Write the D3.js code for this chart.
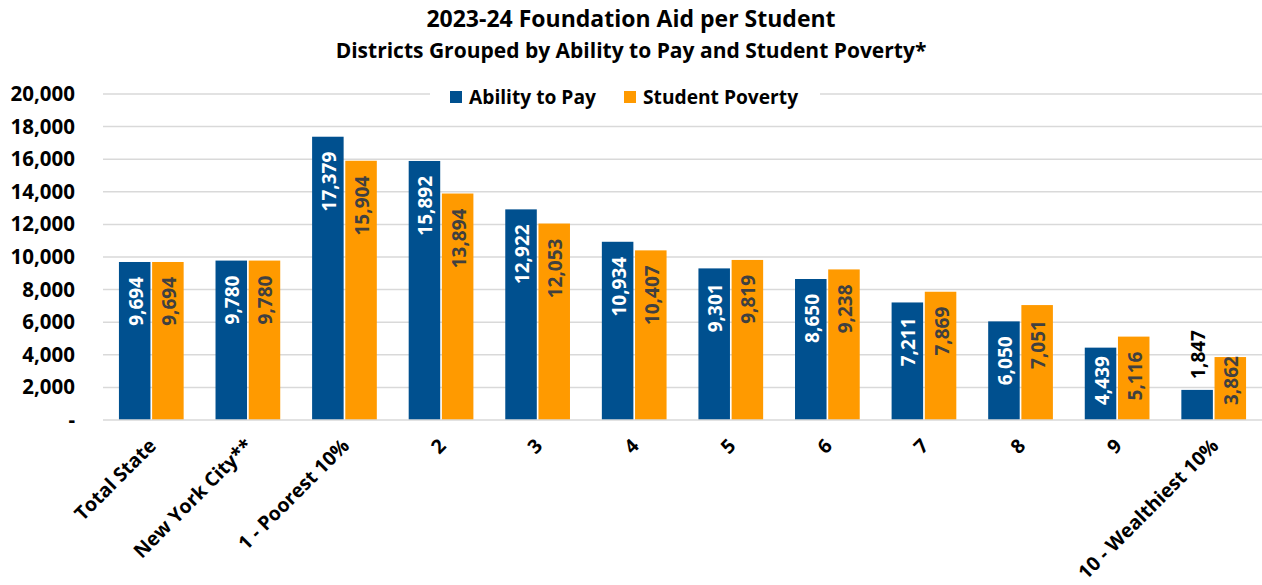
<!DOCTYPE html>
<html>
<head>
<meta charset="utf-8">
<script src="https://cdn.jsdelivr.net/npm/d3@7"></script>
<style>
  body { margin: 0; background: #fff; }
  svg text { font-family: "Open Sans", Lato, sans-serif; font-weight: bold; }
</style>
</head>
<body>
<div id="chart"></div>
<script>
// data
const categories = ["Total State", "New York City**", "1 - Poorest 10%", "2", "3", "4", "5", "6", "7", "8", "9", "10 - Wealthiest 10%"];
const abilityToPay = [9694, 9780, 17379, 15892, 12922, 10934, 9301, 8650, 7211, 6050, 4439, 1847];
const studentPoverty = [9694, 9780, 15904, 13894, 12053, 10407, 9819, 9238, 7869, 7051, 5116, 3862];
const seriesNames = ["Ability to Pay", "Student Poverty"];
const yTicks = [0, 2000, 4000, 6000, 8000, 10000, 12000, 14000, 16000, 18000, 20000];

const width = 1262, height = 585;
const margin = { top: 94, right: 0, bottom: 165, left: 103 };
const innerW = width - margin.left - margin.right;
const innerH = height - margin.top - margin.bottom;

const colors = ["#00508F", "#FF9A00"];
const labelColors = ["#ffffff", "#404040"];

const svg = d3.select("#chart").append("svg")
    .attr("width", width)
    .attr("height", height);

// titles
svg.append("text")
    .attr("x", 631).attr("y", 27)
    .attr("text-anchor", "middle")
    .style("font-size", "23px")
    .text("2023-24 Foundation Aid per Student");
svg.append("text")
    .attr("x", 631).attr("y", 58)
    .attr("text-anchor", "middle")
    .style("font-size", "21px")
    .text("Districts Grouped by Ability to Pay and Student Poverty*");

const g = svg.append("g").attr("transform", `translate(${margin.left},${margin.top})`);

// scales
const x0 = d3.scaleBand().domain(categories).range([0, innerW]).paddingInner(0.33).paddingOuter(0.165);
const x1 = d3.scaleBand().domain(seriesNames).range([0, x0.bandwidth()]).paddingInner(0.05);
const y = d3.scaleLinear().domain([0, 20000]).range([innerH, 0]);

// gridlines
g.selectAll(".grid")
    .data(yTicks.slice(1))
    .enter().append("line")
    .attr("x1", 0).attr("x2", innerW)
    .attr("y1", d => y(d)).attr("y2", d => y(d))
    .attr("stroke", "#d9d9d9")
    .attr("stroke-width", 1.5);

// y axis labels
const yAxis = d3.axisLeft(y)
    .tickValues(yTicks)
    .tickSize(0)
    .tickPadding(28)
    .tickFormat(d => d === 0 ? "-" : d3.format(",")(d));
const gy = g.append("g").call(yAxis);
gy.select(".domain").remove();
gy.selectAll("text").style("font-size", "20.5px").attr("fill", "#000");

// bars
const data = categories.map((c, i) => ({ cat: c, vals: [abilityToPay[i], studentPoverty[i]] }));
const groups = g.selectAll(".cat")
    .data(data)
    .enter().append("g")
    .attr("transform", d => `translate(${x0(d.cat)},0)`);

groups.selectAll("rect")
    .data(d => d.vals.map((v, j) => ({ v, j })))
    .enter().append("rect")
    .attr("x", d => x1(seriesNames[d.j]))
    .attr("y", d => y(d.v))
    .attr("width", x1.bandwidth())
    .attr("height", d => innerH - y(d.v))
    .attr("fill", d => colors[d.j]);

// value labels: inside the top of the bar, pushed up a bit for short bars,
// and outside above the bar when it is really short
const fitsInside = v => innerH - y(v) > 45;
groups.selectAll(".val")
    .data(d => d.vals.map((v, j) => ({ v, j })))
    .enter().append("text")
    .style("font-size", "19px")
    .attr("text-anchor", d => fitsInside(d.v) ? "end" : "start")
    .attr("fill", d => fitsInside(d.v) ? labelColors[d.j] : "#000")
    .text(d => d3.format(",")(d.v))
    .attr("transform", function(d) {
        const cx = x1(seriesNames[d.j]) + x1.bandwidth() / 2 + 8;
        const barH = innerH - y(d.v);
        const len = this.getComputedTextLength();
        const yy = fitsInside(d.v) ? y(d.v) + Math.min(15, barH - len - 15) : y(d.v) - 11;
        return `translate(${cx},${yy}) rotate(-90)`;
    });

// baseline
g.append("line")
    .attr("x1", 0).attr("x2", innerW)
    .attr("y1", innerH).attr("y2", innerH)
    .attr("stroke", "#d9d9d9")
    .attr("stroke-width", 1.5);

// x labels rotated
g.selectAll(".xlab")
    .data(categories)
    .enter().append("text")
    .attr("transform", d => `translate(${x0(d) + x0.bandwidth() / 2 + 6},${innerH + 27}) rotate(-45)`)
    .attr("text-anchor", "end")
    .style("font-size", "19.5px")
    .text(d => d);

// legend
const legend = svg.append("g").attr("transform", "translate(430,84)");
legend.append("rect").attr("x", 0).attr("y", 0).attr("width", 390).attr("height", 26).attr("fill", "#fff");
const legendX = [20, 194];
seriesNames.forEach((s, i) => {
    legend.append("rect")
        .attr("x", legendX[i]).attr("y", 7)
        .attr("width", 12).attr("height", 12)
        .attr("fill", colors[i]);
    legend.append("text")
        .attr("x", legendX[i] + 19).attr("y", 20)
        .style("font-size", "19.2px")
        .text(s);
});
</script>
</body>
</html>
